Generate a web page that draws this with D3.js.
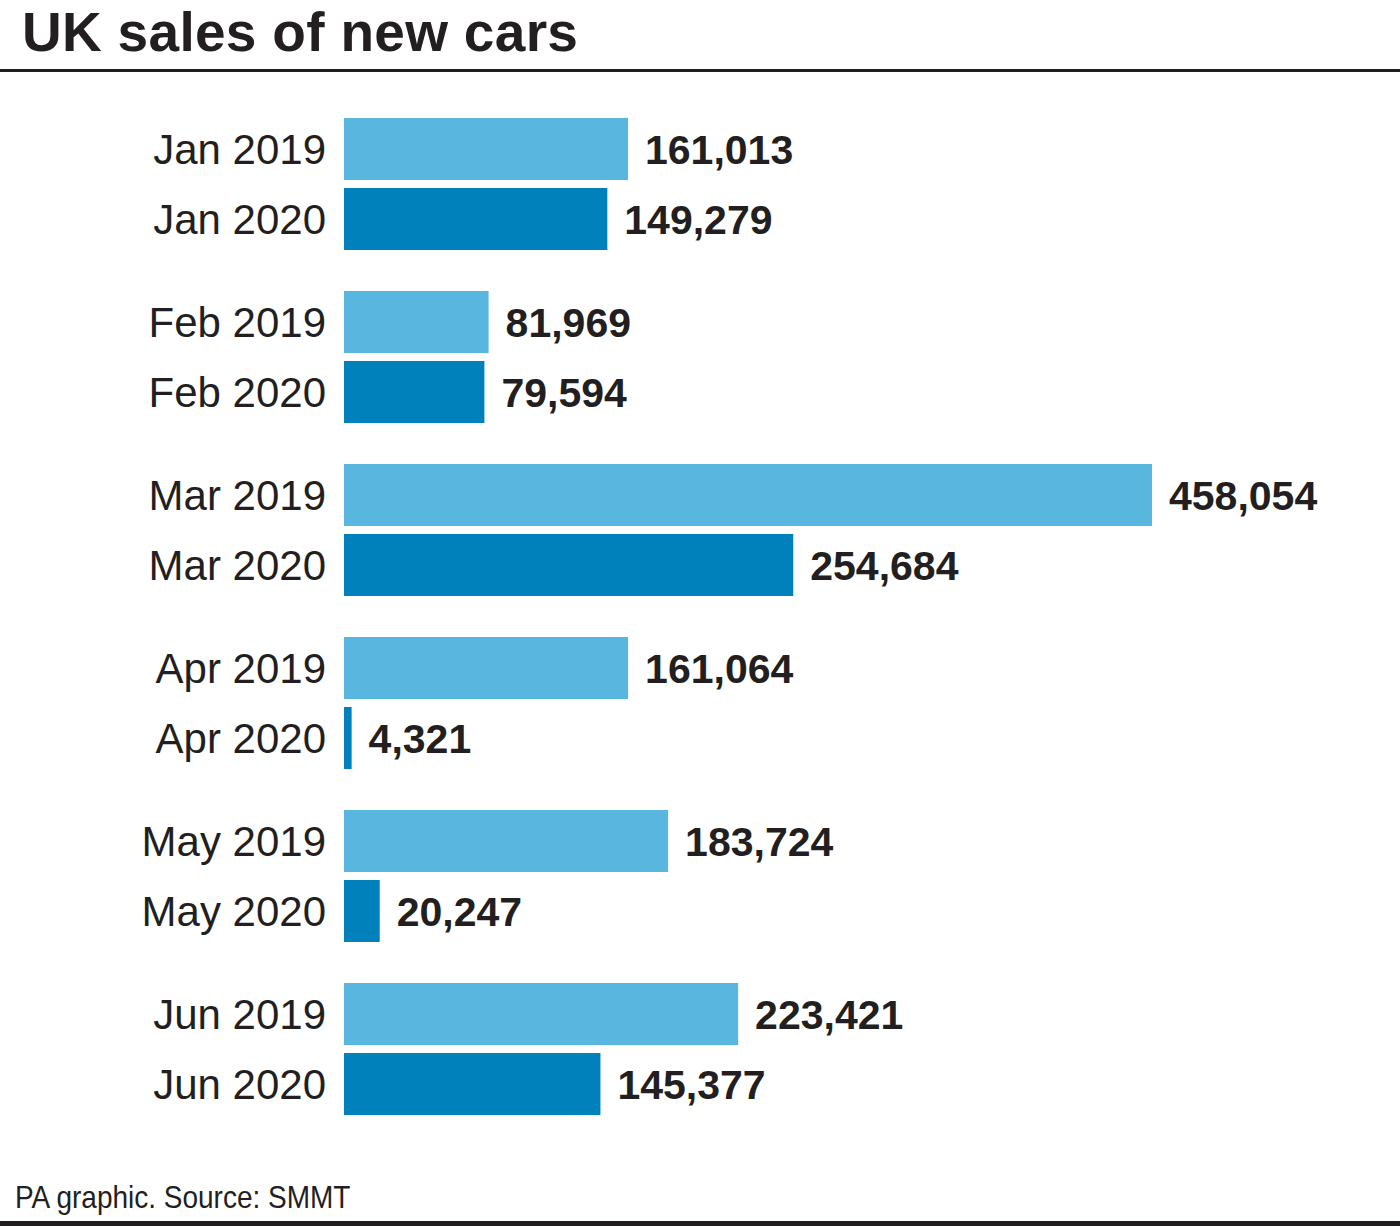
<!DOCTYPE html>
<html><head><meta charset="utf-8">
<script src="https://cdn.jsdelivr.net/npm/d3@7"></script>
<style>html,body{margin:0;padding:0;background:#fff;}svg{display:block;}</style>
</head><body>
<script>
const months = ["Jan","Feb","Mar","Apr","May","Jun"];
const years = ["2019","2020"];
const sales2019 = [161013, 81969, 458054, 161064, 183724, 223421];
const sales2020 = [149279, 79594, 254684, 4321, 20247, 145377];
const colors = {"2019":"#58b6df","2020":"#0081bc"};

const W = 1400, H = 1226;
const svg = d3.select("body").append("svg").attr("width", W).attr("height", H);
const ink = "#231f20";

svg.append("text").attr("x", 22).attr("y", 51)
  .style("font-family","'Liberation Sans', Arial, sans-serif").style("font-weight","bold")
  .style("font-size","55px").style("letter-spacing","0.3px").attr("fill", ink)
  .text("UK sales of new cars");
svg.append("rect").attr("x",0).attr("y",69).attr("width",W).attr("height",3).attr("fill",ink);

const y0 = d3.scaleBand().domain(months).range([118, 1115]).paddingInner(0.237).paddingOuter(0);
const y1 = d3.scaleBand().domain(years).range([0, y0.bandwidth()]).paddingInner(0.114).paddingOuter(0);
const x = d3.scaleLinear().domain([0, 458054]).range([344, 1152]);

const data = [];
months.forEach((m,i)=>{
  data.push({m, yr:"2019", v:sales2019[i]});
  data.push({m, yr:"2020", v:sales2020[i]});
});

const g = svg.append("g");
g.selectAll("rect.bar").data(data).join("rect").attr("class","bar")
  .attr("x", x(0)).attr("y", d=>y0(d.m)+y1(d.yr))
  .attr("width", d=>x(d.v)-x(0)).attr("height", y1.bandwidth())
  .attr("fill", d=>colors[d.yr]);

g.selectAll("text.cat").data(data).join("text").attr("class","cat")
  .attr("x", 326).attr("y", d=>y0(d.m)+y1(d.yr)+y1.bandwidth()/2)
  .attr("dy","0.36em").attr("text-anchor","end")
  .style("font-family","'Liberation Sans', Arial, sans-serif").style("font-size","42px")
  .attr("fill", ink).text(d=>d.m+" "+d.yr);

const fmt = d3.format(",");
g.selectAll("text.val").data(data).join("text").attr("class","val")
  .attr("x", d=>x(d.v)+17).attr("y", d=>y0(d.m)+y1(d.yr)+y1.bandwidth()/2)
  .attr("dy","0.36em")
  .style("font-family","'Liberation Sans', Arial, sans-serif").style("font-weight","bold").style("font-size","41px")
  .attr("fill", ink).text(d=>fmt(d.v));

svg.append("text").attr("transform","translate(15,1208) scale(0.875,1)")
  .style("font-family","'Liberation Sans', Arial, sans-serif")
  .style("font-size","32px").attr("fill", ink)
  .text("PA graphic. Source: SMMT");
svg.append("rect").attr("x",0).attr("y",1221).attr("width",W).attr("height",5).attr("fill",ink);
</script>
</body></html>
